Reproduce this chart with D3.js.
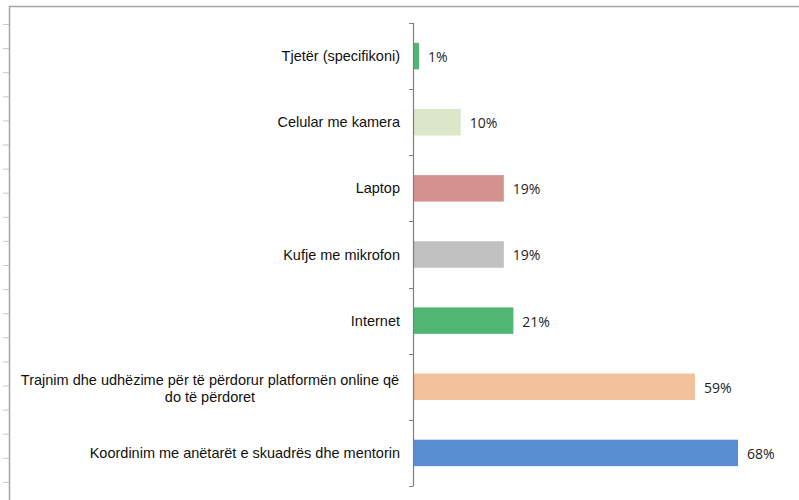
<!DOCTYPE html>
<html>
<head>
<meta charset="utf-8">
<script src="https://cdn.jsdelivr.net/npm/d3@7"></script>
<style>
  body { margin: 0; background: #fff; }
  svg { display: block; }
</style>
</head>
<body>
<svg width="799" height="500"></svg>
<script>
var categories = [
    "Tjetër (specifikoni)",
    "Celular me kamera",
    "Laptop",
    "Kufje me mikrofon",
    "Internet",
    "Trajnim dhe udhëzime për të përdorur platformën online që|do të përdoret",
    "Koordinim me anëtarët e skuadrës dhe mentorin"
];
var values = [1, 10, 19, 19, 21, 59, 68];
var barColors = ["#4fb673", "#dce6c8", "#d4918e", "#c0c0c0", "#4fb673", "#f2c39a", "#5b8dd3"];

var svg = d3.select("svg");
var width = +svg.attr("width"),
    height = +svg.attr("height");

// outer frame (top + left edge with little ticks)
svg.append("line")
    .attr("x1", 9.5).attr("x2", width).attr("y1", 6.5).attr("y2", 6.5)
    .attr("stroke", "#a6a6a6").attr("stroke-width", 1.5);
svg.append("line")
    .attr("x1", 9.5).attr("x2", 9.5).attr("y1", 6).attr("y2", height)
    .attr("stroke", "#a6a6a6").attr("stroke-width", 1.5);

var edgeTicks = d3.range(0, 20);
svg.append("g").selectAll("line")
    .data(edgeTicks).enter()
    .append("line")
    .attr("x1", 3).attr("x2", 9)
    .attr("y1", function(d) { return 24.5 + d * 24.1; })
    .attr("y2", function(d) { return 24.5 + d * 24.1; })
    .attr("stroke", "#c8c8c8");

var axisX = 413,
    chartTop = 23,
    chartBottom = 486;

var scaleY = d3.scaleBand()
    .domain(categories)
    .range([chartTop, chartBottom])
    .paddingInner(0.6)
    .paddingOuter(0.3);

var scaleX = d3.scaleLinear()
    .domain([0, 68])
    .range([axisX, 738]);

var chart = svg.append("g");

chart.selectAll("rect")
    .data(values).enter()
    .append("rect")
    .attr("x", scaleX(0))
    .attr("y", function(d, i) { return scaleY(categories[i]); })
    .attr("width", function(d) { return Math.max(6, scaleX(d) - scaleX(0)); })
    .attr("height", scaleY.bandwidth())
    .style("fill", function(d, i) { return barColors[i]; });

// value labels
chart.selectAll("text.value")
    .data(values).enter()
    .append("text")
    .attr("class", "value")
    .attr("x", function(d) { return Math.max(scaleX(0) + 6, scaleX(d)) + 9; })
    .attr("y", function(d, i) { return scaleY(categories[i]) + scaleY.bandwidth() / 2 + 1; })
    .attr("dy", "0.35em")
    .style("font-family", "'Open Sans', sans-serif")
    .style("font-size", "14px")
    .style("fill", "#1e1e1e")
    .text(function(d) { return d + "%"; });

// category axis
var boundaries = d3.range(0, categories.length + 1).map(function(i) {
    return chartTop + i * (chartBottom - chartTop) / categories.length;
});

var axisG = svg.append("g");
axisG.append("line")
    .attr("x1", axisX + 0.5).attr("x2", axisX + 0.5)
    .attr("y1", chartTop).attr("y2", chartBottom)
    .attr("stroke", "#7f7f7f").attr("stroke-width", 1.2);
axisG.selectAll("line.tick")
    .data(boundaries).enter()
    .append("line")
    .attr("class", "tick")
    .attr("x1", axisX - 4).attr("x2", axisX + 0.5)
    .attr("y1", function(d) { return Math.round(d) + 0.5; })
    .attr("y2", function(d) { return Math.round(d) + 0.5; })
    .attr("stroke", "#7f7f7f");

// category labels: single lines right aligned, wrapped lines centred
var labelRight = 400,
    labelLeft = 20;
categories.forEach(function(c, i) {
    var lines = c.split("|");
    var cy = scaleY(c) + scaleY.bandwidth() / 2;
    var t = svg.append("text")
        .style("font-family", "'Liberation Sans', Arial, sans-serif")
        .style("font-size", "14.5px")
        .style("fill", "#111");
    if (lines.length === 1) {
        t.attr("x", labelRight).attr("y", cy).attr("dy", "0.35em")
            .attr("text-anchor", "end").text(c);
    } else {
        var mid = (labelLeft + labelRight) / 2;
        lines.forEach(function(l, j) {
            t.append("tspan")
                .attr("x", mid)
                .attr("y", cy + 2 + (j - (lines.length - 1) / 2) * 17)
                .attr("dy", "0.35em")
                .attr("text-anchor", "middle")
                .text(l);
        });
    }
});
</script>
</body>
</html>
